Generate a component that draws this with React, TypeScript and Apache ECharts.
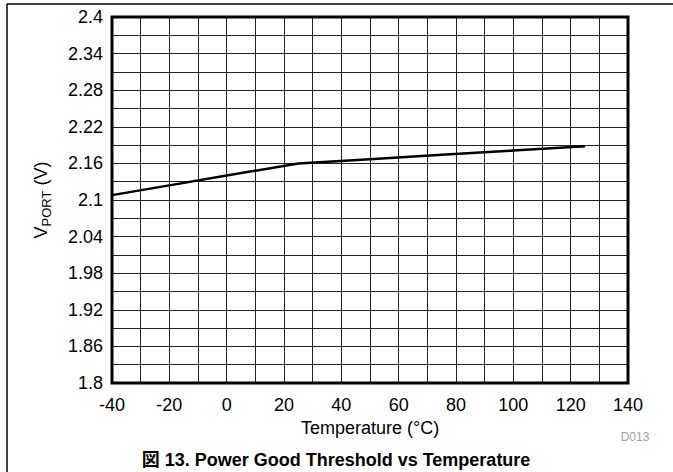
import React, { useEffect, useRef } from "react";
import * as echarts from "echarts";

const temps = [-40, -20, 0, 25, 50, 75, 100, 125];
const vport = [2.108, 2.124, 2.14, 2.16, 2.167, 2.174, 2.181, 2.188];
const xTicks = [-40, -20, 0, 20, 40, 60, 80, 100, 120, 140];
const yTicks = [1.8, 1.86, 1.92, 1.98, 2.04, 2.1, 2.16, 2.22, 2.28, 2.34, 2.4];

const FONT = "'Liberation Sans', Arial, 'Noto Sans CJK JP', sans-serif";

export default function App() {
  const ref = useRef<HTMLDivElement>(null);
  useEffect(() => {
    if (!ref.current) return;
    const chart = echarts.init(ref.current, null, { renderer: "svg" });
    const near = (v: number, arr: number[]) => arr.some((t) => Math.abs(t - v) < 1e-6);
    chart.setOption({
      animation: false,
      backgroundColor: "#fff",
      grid: {
        left: 112,
        right: 45,
        top: 17,
        bottom: 89,
        show: true,
        borderColor: "#000",
        borderWidth: 3,
        backgroundColor: "transparent",
        z: 3,
      },
      xAxis: {
        type: "value",
        min: -40,
        max: 140,
        interval: 10,
        name: "Temperature (°C)",
        nameLocation: "middle",
        nameGap: 32,
        nameTextStyle: { fontFamily: FONT, fontSize: 18, color: "#000" },
        axisLine: { show: false },
        axisTick: { show: false },
        axisLabel: {
          fontFamily: FONT,
          fontSize: 18,
          color: "#000",
          margin: 13,
          formatter: (v: number) => (near(v, xTicks) ? String(v) : ""),
        },
        splitLine: { show: true, lineStyle: { color: "#222", width: 1 } },
      },
      yAxis: {
        type: "value",
        min: 1.8,
        max: 2.4,
        interval: 0.03,
        name: "{v|V}{s|PORT}{v| (V)}",
        nameLocation: "middle",
        nameGap: 62,
        nameRotate: 90,
        nameTextStyle: {
          fontFamily: FONT,
          color: "#000",
          rich: {
            v: { fontFamily: FONT, fontSize: 18, color: "#000", verticalAlign: "bottom" },
            s: { fontFamily: FONT, fontSize: 13, color: "#000", verticalAlign: "bottom", padding: [0, 0, -3, 0] },
          },
        },
        axisLine: { show: false },
        axisTick: { show: false },
        axisLabel: {
          fontFamily: FONT,
          fontSize: 18,
          color: "#000",
          margin: 9,
          formatter: (v: number) => (near(v, yTicks) ? String(parseFloat(v.toFixed(2))) : ""),
        },
        splitLine: { show: true, lineStyle: { color: "#222", width: 1 } },
      },
      series: [
        {
          type: "line",
          data: temps.map((t, i) => [t, vport[i]]),
          showSymbol: false,
          lineStyle: { color: "#000", width: 2.5 },
          z: 4,
        },
      ],
      graphic: [
        { type: "line", shape: { x1: 7, y1: 4, x2: 673, y2: 4 }, style: { stroke: "#000", lineWidth: 1.5 } },
        { type: "line", shape: { x1: 7, y1: 4, x2: 7, y2: 472 }, style: { stroke: "#000", lineWidth: 1.5 } },
        {
          type: "text",
          x: 635,
          y: 437,
          style: { text: "D013", fontFamily: FONT, fontSize: 12, fill: "#a0a0a0", align: "center", verticalAlign: "middle" },
        },
        {
          type: "text",
          x: 336,
          y: 460,
          style: {
            text: "図 13. Power Good Threshold vs Temperature",
            fontFamily: FONT,
            fontSize: 18,
            fontWeight: "bold",
            fill: "#000",
            align: "center",
            verticalAlign: "middle",
          },
        },
      ],
    });
    return () => chart.dispose();
  }, []);
  return <div ref={ref} style={{ width: 673, height: 472, position: "absolute", left: 0, top: 0 }} />;
}
